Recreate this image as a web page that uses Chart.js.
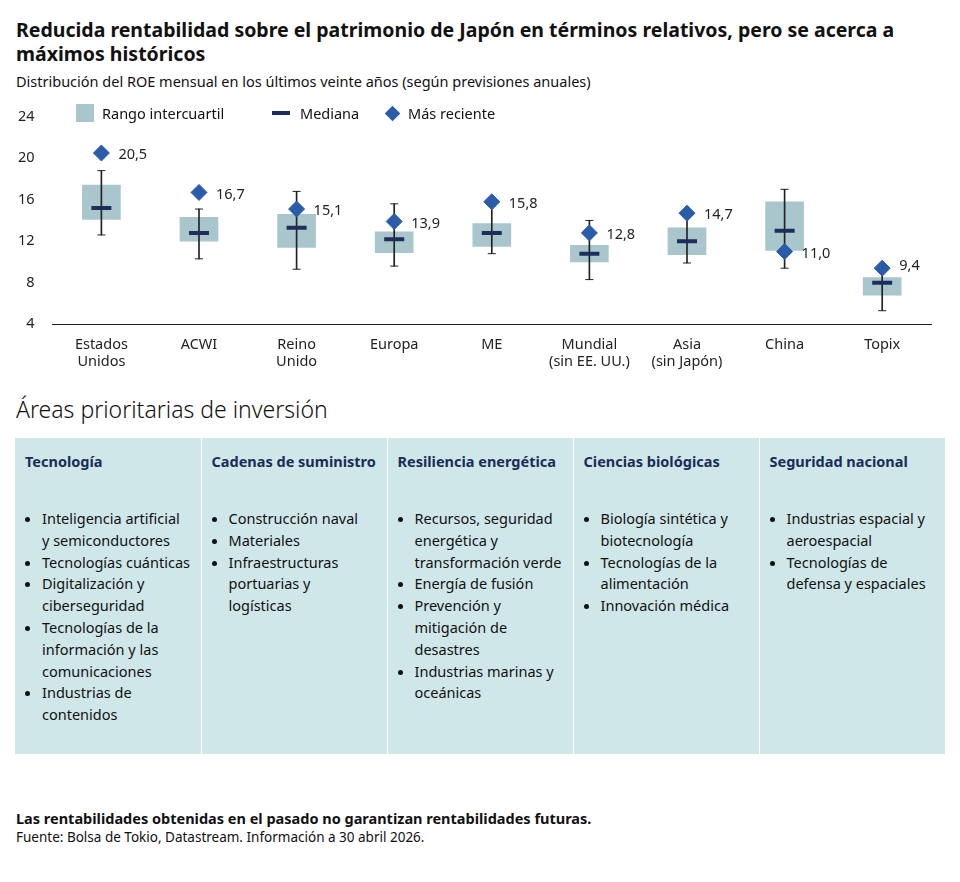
<!DOCTYPE html>
<html><head><meta charset="utf-8">
<script src="https://cdn.jsdelivr.net/npm/chart.js@4"></script>
<style>
body{margin:0;width:960px;height:882px;background:#fff;font-family:"Noto Sans",sans-serif;color:#111;position:relative}
h1{position:absolute;left:16px;top:18px;margin:0;font-size:19.5px;line-height:24px;font-weight:700;width:935px}
.sub{position:absolute;left:16px;top:71px;font-size:14.5px}
#wrap{position:absolute;left:0;top:98px;width:945px;height:285px}
.leg{position:absolute;top:103px;font-size:14.5px;display:flex;align-items:center}
.h2{position:absolute;left:16px;top:393px;font-size:23px;font-weight:300}
table{position:absolute;left:15px;top:438px;width:930px;height:316px;border-collapse:collapse;background:#cfe7e8;table-layout:fixed}
td{vertical-align:top;padding:14px 10px 0 10px;border-left:1px solid #fff;font-size:14.5px;line-height:21.8px}
td:first-child{border-left:none}
td b{color:#1a2c57;display:block;height:56px;line-height:19px}
ul{margin:0;padding-left:17px}
.f1{position:absolute;left:16px;top:808px;font-size:14.5px;font-weight:700}
.f2{position:absolute;left:16px;top:828px;font-size:13.5px}
</style></head><body>
<h1>Reducida rentabilidad sobre el patrimonio de Japón en términos relativos, pero se acerca a máximos históricos</h1>
<div class="sub">Distribución del ROE mensual en los últimos veinte años (según previsiones anuales)</div>
<div id="wrap"><canvas id="c"></canvas></div>
<div class="leg" style="left:76px"><span style="width:18px;height:18px;background:#a9c6cc;display:inline-block;margin-right:8px"></span>Rango intercuartil</div>
<div class="leg" style="left:272px"><span style="width:18px;height:4px;background:#1d2d5c;display:inline-block;margin-right:10px"></span>Mediana</div>
<div class="leg" style="left:387px"><span style="width:11px;height:11px;background:#2a5caa;transform:rotate(45deg);display:inline-block;margin-right:10px"></span>Más reciente</div>
<div class="h2">Áreas prioritarias de inversión</div>
<table><tr>
<td><b>Tecnología</b><ul><li>Inteligencia artificial y semiconductores</li><li>Tecnologías cuánticas</li><li>Digitalización y ciberseguridad</li><li>Tecnologías de la información y las comunicaciones</li><li>Industrias de contenidos</li></ul></td>
<td><b>Cadenas de suministro</b><ul><li>Construcción naval</li><li>Materiales</li><li>Infraestructuras portuarias y logísticas</li></ul></td>
<td><b>Resiliencia energética</b><ul><li>Recursos, seguridad energética y transformación verde</li><li>Energía de fusión</li><li>Prevención y mitigación de desastres</li><li>Industrias marinas y oceánicas</li></ul></td>
<td><b>Ciencias biológicas</b><ul><li>Biología sintética y biotecnología</li><li>Tecnologías de la alimentación</li><li>Innovación médica</li></ul></td>
<td><b>Seguridad nacional</b><ul><li>Industrias espacial y aeroespacial</li><li>Tecnologías de defensa y espaciales</li></ul></td>
</tr></table>
<div class="f1">Las rentabilidades obtenidas en el pasado no garantizan rentabilidades futuras.</div>
<div class="f2">Fuente: Bolsa de Tokio, Datastream. Información a 30 abril 2026.</div>
<script>
const categories=[['Estados','Unidos'],'ACWI',['Reino','Unido'],'Europa','ME',['Mundial','(sin EE. UU.)'],['Asia','(sin Japón)'],'China','Topix'];
const q1=[14.1,12.0,11.4,10.9,11.5,10.0,10.7,11.1,6.8];
const q3=[17.4,14.3,14.6,12.9,13.7,11.6,13.3,15.8,8.5];
const median=[15.2,12.8,13.3,12.2,12.8,10.8,12.0,13.0,8.0];
const wLow=[12.6,10.3,9.3,9.6,10.8,8.3,9.9,9.4,5.3];
const wHigh=[18.8,15.1,16.8,15.6,15.4,14.0,14.9,17.0,9.7];
const latest=[20.5,16.7,15.1,13.9,15.8,12.8,14.7,11.0,9.4];
const yTicks=[4,8,12,16,20,24];
const idx=categories.map((_,i)=>i);
const labelPlugin={id:'lbl',afterDatasetsDraw(ch){
  const ctx=ch.ctx,x=ch.scales.x,y=ch.scales.y;
  ctx.save();ctx.font='14.5px "Noto Sans"';ctx.fillStyle='#222';ctx.textBaseline='middle';
  latest.forEach((v,i)=>ctx.fillText(v.toFixed(1).replace('.',','),x.getPixelForValue(i)+17,y.getPixelForValue(v)+(i===8?-2:2)));
  ctx.restore();}};
const pts=(data,style,r,bw,col,order)=>({type:'line',showLine:false,data,pointStyle:style,radius:r,borderWidth:bw,borderColor:col,backgroundColor:col,order});
new Chart(document.getElementById('c'),{
  data:{labels:categories,datasets:[
    {type:'bar',data:idx.map(i=>[q1[i],q3[i]]),backgroundColor:'#a9c6cc',barThickness:38,order:5,grouped:false},
    {type:'bar',data:idx.map(i=>[wLow[i],wHigh[i]]),backgroundColor:'#222',barThickness:1,order:4,grouped:false},
    pts(wLow,'line',4,1,'#222',3),
    pts(wHigh,'line',4,1,'#222',3),
    pts(median,'line',10,4,'#1d2d5c',1),
    pts(latest,'rectRot',8,1,'#2a5caa',0)
  ]},
  options:{responsive:true,maintainAspectRatio:false,animation:false,
    layout:{padding:{top:8,left:8}},
    plugins:{legend:{display:false},tooltip:{enabled:false}},
    scales:{
      x:{type:'category',offset:true,grid:{display:false,drawTicks:false},border:{color:'#222'},
        ticks:{color:'#222',font:{size:14.5,family:'Noto Sans'},padding:12,maxRotation:0}},
      y:{min:4,max:24,afterBuildTicks:a=>{a.ticks=yTicks.map(v=>({value:v}))},grid:{display:false},border:{display:false},
        ticks:{color:'#222',font:{size:14.5,family:'Noto Sans'},padding:10}}
    }},
  plugins:[labelPlugin]
});
</script>
</body></html>
